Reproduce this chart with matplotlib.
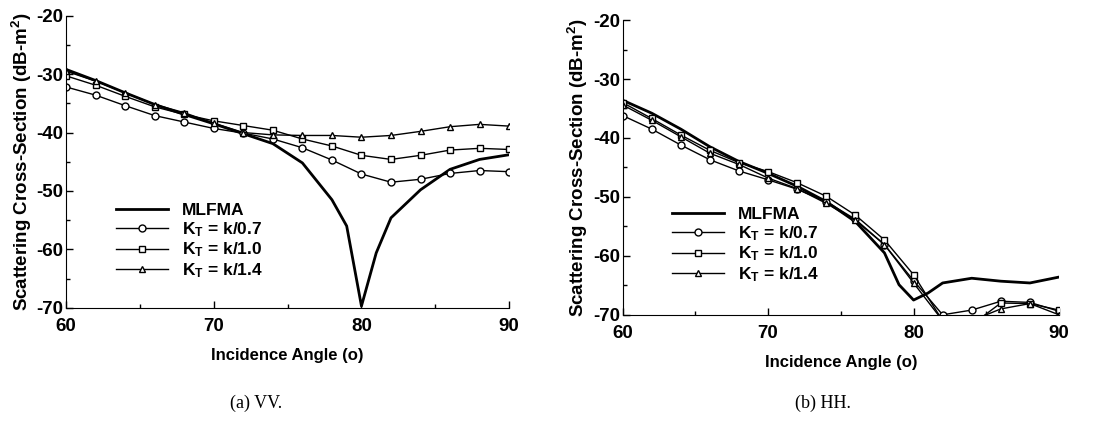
import numpy as np
import matplotlib
matplotlib.use("Agg")
import matplotlib.pyplot as plt
from matplotlib.ticker import MultipleLocator

plt.rcParams["font.family"] = ["Liberation Sans", "DejaVu Sans"]
plt.rcParams["font.weight"] = "bold"
plt.rcParams["axes.unicode_minus"] = False
plt.rcParams["mathtext.fontset"] = "custom"
plt.rcParams["mathtext.rm"] = "Liberation Sans:bold"
plt.rcParams["mathtext.it"] = "Liberation Sans:bold"

# ---- data ----
angle_mlfma_vv = [60, 62, 64, 66, 68, 70, 72, 74, 76, 78, 79, 80, 81, 82, 84, 86, 88, 90]
mlfma_vv = [-29.2, -31.1, -33.2, -35.2, -36.9, -38.5, -40.2, -41.9, -45.2, -51.5,
            -56.0, -69.7, -60.6, -54.6, -49.8, -46.3, -44.6, -43.8]

angle = [60, 62, 64, 66, 68, 70, 72, 74, 76, 78, 80, 82, 84, 86, 88, 90]
kt07_vv = [-32.2, -33.6, -35.4, -37.1, -38.2, -39.3, -40.1, -41.1, -42.6, -44.7,
           -47.1, -48.5, -48.0, -47.0, -46.5, -46.7]
kt10_vv = [-30.3, -31.9, -33.8, -35.6, -36.9, -38.0, -38.8, -39.6, -41.1, -42.3,
           -43.9, -44.6, -43.9, -43.0, -42.7, -42.9]
kt14_vv = [-29.5, -31.2, -33.2, -35.2, -36.6, -38.4, -40.0, -40.4, -40.5, -40.5,
           -40.8, -40.5, -39.8, -39.0, -38.6, -38.9]

angle_mlfma_hh = [60, 62, 64, 66, 68, 70, 72, 74, 76, 78, 79, 80, 81, 82, 84, 86, 88, 90]
mlfma_hh = [-33.6, -35.8, -38.5, -41.5, -44.0, -46.0, -48.2, -50.8, -54.2, -59.5,
            -64.9, -67.5, -66.3, -64.6, -63.8, -64.3, -64.6, -63.6]
kt07_hh = [-36.2, -38.5, -41.2, -43.7, -45.6, -47.1, -48.7, -50.8, -53.8, -58.1,
           -64.2, -70.0, -69.2, -67.7, -67.9, -69.4]
kt10_hh = [-34.0, -36.7, -39.5, -42.1, -44.2, -45.7, -47.6, -49.9, -53.1, -57.3,
           -63.2, -71.0, -71.7, -68.0, -68.1, -69.2]
kt14_hh = [-34.4, -37.0, -39.8, -42.6, -44.5, -46.8, -48.6, -51.1, -54.0, -58.1,
           -64.6, -71.0, -71.0, -69.0, -68.1, -70.0]

LABELS = ["MLFMA", r"K$_{\rm T}$ = k/0.7", r"K$_{\rm T}$ = k/1.0", r"K$_{\rm T}$ = k/1.4"]
MARKERS = ["o", "s", "^"]


def draw(ax, ang_m, mlfma, series, legend_pos):
    ax.plot(ang_m, mlfma, color="black", lw=2.0, label=LABELS[0])
    for vals, mk, lab in zip(series, MARKERS, LABELS[1:]):
        ax.plot(angle, vals, color="black", lw=1.0, marker=mk, ms=5,
                mfc="white", mec="black", mew=1.0, label=lab)
    ax.set_xlim(60, 90)
    ax.set_ylim(-70, -20)
    ax.xaxis.set_major_locator(MultipleLocator(10))
    ax.xaxis.set_minor_locator(MultipleLocator(5))
    ax.yaxis.set_major_locator(MultipleLocator(10))
    ax.yaxis.set_minor_locator(MultipleLocator(5))
    ax.tick_params(which="both", direction="in", labelsize=13.5, width=1)
    ax.tick_params(axis="x", pad=7)
    ax.tick_params(axis="y", pad=2)
    ax.tick_params(which="major", length=5)
    ax.tick_params(which="minor", length=3)
    for s in ("top", "right"):
        ax.spines[s].set_visible(False)
    ax.set_xlabel("Incidence Angle (o)", fontsize=12, fontweight="bold", labelpad=10)
    ax.set_ylabel("Scattering Cross-Section (dB-m$^2$)", fontsize=13.5,
                  fontweight="bold", labelpad=2)
    ax.legend(loc="lower left", bbox_to_anchor=legend_pos, frameon=False,
              fontsize=12.5, handlelength=3.0, labelspacing=0.12, handletextpad=0.8,
              borderpad=0.2)


fig = plt.figure(figsize=(11.02, 4.36), dpi=100)
ax1 = fig.add_axes([0.060, 0.294, 0.402, 0.670])
ax2 = fig.add_axes([0.565, 0.278, 0.396, 0.676])

draw(ax1, angle_mlfma_vv, mlfma_vv, [kt07_vv, kt10_vv, kt14_vv], (0.085, 0.053))
draw(ax2, angle_mlfma_hh, mlfma_hh, [kt07_hh, kt10_hh, kt14_hh], (0.086, 0.063))

fig.text(0.232, 0.065, "(a) VV.", family="Liberation Serif", fontweight="normal",
         fontsize=13, ha="center")
fig.text(0.747, 0.065, "(b) HH.", family="Liberation Serif", fontweight="normal",
         fontsize=13, ha="center")

fig.savefig("out.png", dpi=100)
